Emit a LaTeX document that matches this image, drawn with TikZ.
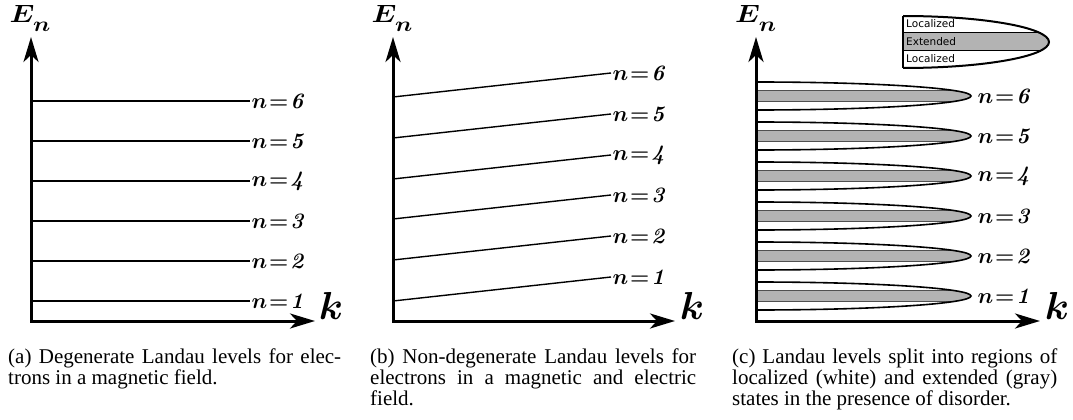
\RequirePackage{fix-cm}
\documentclass[tikz,border=0pt]{standalone}
\usepackage{bm}
\usepackage{graphicx}
\usepackage{fontspec}
\newfontfamily\legfont{DejaVu Sans}
\newfontfamily\capserif{Liberation Serif}
\usetikzlibrary{arrows.meta}
\newcommand\mycapfont{\capserif\fontsize{21}{21.3}\selectfont}
\newcommand\nlab[1]{$\bm{n}\mkern1.5mu\mathord{\bm{=}}\mkern1.5mu\textbf{\textit{#1}}$}
\newcommand\Elab{\scalebox{1.15}[1]{\fontsize{25}{25}\selectfont$\bm{E}$\kern-1pt\raisebox{-9pt}{\fontsize{21}{21}\selectfont$\bm{n}$}}}
\newcommand\klab{{\fontsize{39}{39}\selectfont$\bm{k}$}}
\definecolor{bandgray}{RGB}{179,179,179}
\definecolor{bandline}{RGB}{80,80,80}
\begin{document}
\begin{tikzpicture}[x=1pt,y=-1pt,
  axis/.style={line width=3pt,line join=miter,
    {Stealth[length=25pt,width=15pt,inset=7pt]}-{Stealth[length=25pt,width=15pt,inset=7pt]}},
  lvl/.style={line width=1.4pt},
  lbl/.style={anchor=west,inner sep=1.5pt,font=\fontsize{22}{22}\selectfont},
  lens/.style={line width=1.6pt},
  bandedge/.style={draw=bandline,line width=1pt},
  legtext/.style={anchor=west,inner sep=0pt,font=\legfont\fontsize{10.5}{10.5}\selectfont},
  captext/.style={anchor=base west,inner sep=0pt}]
\useasboundingbox (0,0) rectangle (1073,420);
\fill[white] (0,0) rectangle (1073,420);

% ---------------- panel (a)
\foreach \i/\y in {1/301,2/261,3/221,4/181,5/141,6/101}{
  \coordinate (aL\i) at (31,\y);
  \node[lbl] (aN\i) at (250,\y) {\nlab{\i}};
  \draw[lvl] (aL\i) -- (aN\i.west);
}
\coordinate (aY) at (31,37);
\coordinate (aX) at (315,321);
\draw[axis] (aY) |- (aX);
\node (aE) at (30,18.5) {\Elab};
\node (aK) at (331,306) {\klab};

% ---------------- panel (b)
\foreach \i/\yl/\yr in {1/301/277,2/260/236,3/219/195,4/179/155,5/138/114,6/97/73}{
  \coordinate (bL\i) at (393,\yl);
  \node[lbl] (bN\i) at (611,\yr) {\nlab{\i}};
  \draw[lvl] (bL\i) -- (bN\i.west);
}
\coordinate (bY) at (393,37);
\coordinate (bX) at (675,321);
\draw[axis] (bY) |- (bX);
\node (bE) at (392,18.5) {\Elab};
\node (bK) at (692,306) {\klab};

% ---------------- panel (c)
\foreach \i/\c in {1/296,2/256,3/216,4/176,5/136,6/96}{
  \begin{scope}
    \clip (756,0) rectangle (1073,420);
    \fill[white] (756,\c) ellipse [x radius=215,y radius=14];
    \begin{scope}
      \clip (756,\c) ellipse [x radius=215,y radius=14];
      \fill[bandgray] (756,{\c-5.5}) rectangle (975,{\c+5.5});
      \draw[bandedge] (756,{\c-5.5}) -- (975,{\c-5.5});
      \draw[bandedge] (756,{\c+5.5}) -- (975,{\c+5.5});
    \end{scope}
    \draw[lens] (756,\c) ellipse [x radius=215,y radius=14];
  \end{scope}
  \node[lbl] (cN\i) at (976,\c) {\nlab{\i}};
}
\coordinate (cY) at (756,37);
\coordinate (cX) at (1040,321);
\draw[axis] (cY) |- (cX);
\node (cE) at (755.5,18.5) {\Elab};
\node (cK) at (1057,306) {\klab};

% legend
\begin{scope}
  \clip (903,0) rectangle (1073,100);
  \fill[white] (903,42) ellipse [x radius=146,y radius=26];
  \begin{scope}
    \clip (903,42) ellipse [x radius=146,y radius=26];
    \fill[bandgray] (903,32.3) rectangle (1055,50.7);
    \draw[line width=1.2pt] (903,32.3) -- (1055,32.3);
    \draw[line width=1.2pt] (903,50.7) -- (1055,50.7);
  \end{scope}
  \draw[lens,line width=2pt] (903,42) ellipse [x radius=146,y radius=26];
\end{scope}
\draw[lens,line width=2pt] (903,16) -- (903,68);
\node[legtext] (lg1) at (906,24) {Localized};
\node[legtext] (lg2) at (906,41.5) {Extended};
\node[legtext] (lg3) at (906,59) {Localized};

% captions
\node[captext] (capa) at (8,363) {\parbox[t]{333pt}{\mycapfont (a) Degenerate Landau levels for elec-\linebreak trons in a magnetic field.}};
\node[captext] (capb) at (370,363) {\parbox[t]{326pt}{\mycapfont (b) Non-degenerate Landau levels for\linebreak electrons in a magnetic and electric\linebreak field.}};
\node[captext] (capc) at (732,363) {\parbox[t]{325pt}{\mycapfont (c) Landau levels split into regions of\linebreak localized (white) and extended (gray)\linebreak states in the presence of disorder.}};
\end{tikzpicture}
\end{document}
